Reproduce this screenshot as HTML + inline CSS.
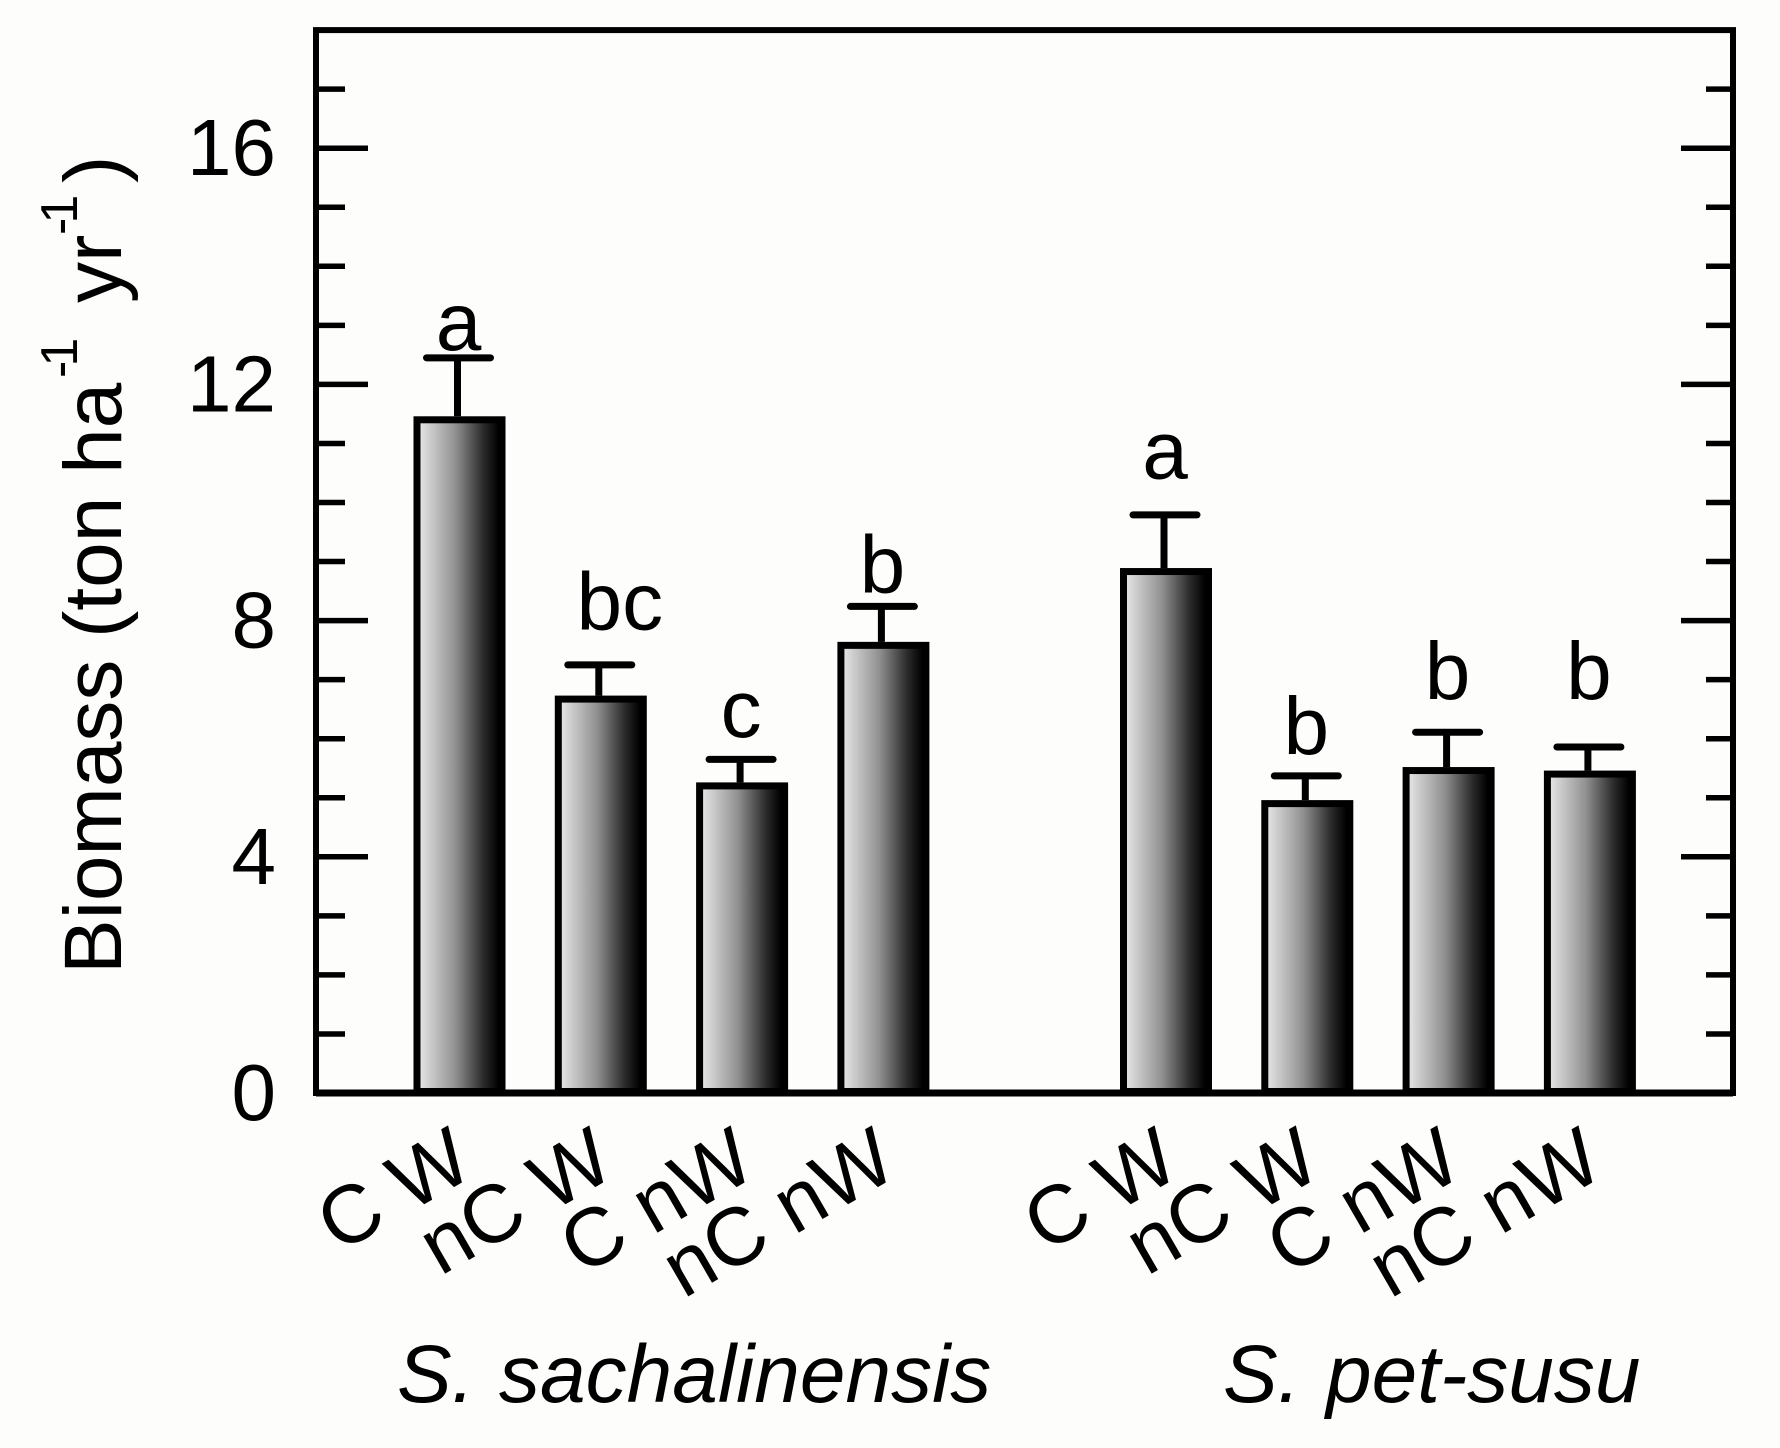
<!DOCTYPE html>
<html>
<head>
<meta charset="utf-8">
<title>Biomass chart</title>
<style>
html,body{margin:0;padding:0;background:#fdfdfb;}
svg{display:block;}
text{font-family:"Liberation Sans",Arial,sans-serif;fill:#000;}
</style>
</head>
<body>
<svg id="chart" xmlns="http://www.w3.org/2000/svg" width="1780" height="1448" viewBox="0 0 1780 1448">
  <defs>
    <linearGradient id="barFill" x1="0" y1="0" x2="1" y2="0">
      <stop offset="0" stop-color="#e2e2e2"/>
      <stop offset="0.45" stop-color="#909090"/>
      <stop offset="0.8" stop-color="#2c2c2c"/>
      <stop offset="1" stop-color="#000"/>
    </linearGradient>
  </defs>
  <rect x="0" y="0" width="1780" height="1448" fill="#fdfdfb"/>
  <g id="plot"></g>
  <text transform="translate(121,974) rotate(-90)" font-size="82">Biomass<tspan x="336">(ton ha</tspan><tspan x="596" dy="-44" font-size="52" letter-spacing="-6">-1</tspan><tspan x="671" dy="44">yr</tspan><tspan x="739" dy="-44" font-size="52" letter-spacing="-6">-1</tspan><tspan x="791" dy="44">)</tspan></text>
  <text font-size="82" font-style="italic" y="1402"><tspan x="397">S.</tspan><tspan x="499">sachalinensis</tspan></text>
  <text font-size="82" font-style="italic" y="1402"><tspan x="1223">S.</tspan><tspan x="1326">pet-susu</tspan></text>
</svg>
<script>
const categories = ['C W', 'nC W', 'C nW', 'nC nW', 'C W', 'nC W', 'C nW', 'nC nW'];
const slots = [0, 1, 2, 3, 5, 6, 7, 8];
const biomass = [11.46, 6.73, 5.26, 7.64, 8.89, 4.96, 5.52, 5.46];
const errorTop = [12.45, 7.25, 5.65, 8.24, 9.79, 5.37, 6.11, 5.86];
const letters = ['a', 'bc', 'c', 'b', 'a', 'b', 'b', 'b'];
const letterLevels = [12.58, 7.85, 6.03, 8.48, 10.41, 5.74, 6.67, 6.67];
const majorTicks = [0, 4, 8, 12, 16];
const minorTicks = [1, 2, 3, 5, 6, 7, 9, 10, 11, 13, 14, 15, 17];

const SVG_NS = 'http://www.w3.org/2000/svg';
const plot = document.getElementById('plot');
const Y0 = 1093, PX_PER_UNIT = 59.05, YMAX = 18;
const LEFT = 316, RIGHT = 1733;
function y(v) { return Y0 - v * PX_PER_UNIT; }
function x(s) { return 459.5 + 141.3 * s; }
function make(tag, attrs) {
  const el = document.createElementNS(SVG_NS, tag);
  for (const k in attrs) el.setAttribute(k, attrs[k]);
  plot.appendChild(el);
  return el;
}

// ticks on both sides
majorTicks.filter(function (t) { return t > 0; }).forEach(function (t) {
  const l = make('line', { x1: LEFT, x2: LEFT + 52, y1: y(t), y2: y(t), stroke: '#000', 'stroke-width': 5.5 });
  
  
  const r = make('line', { x1: RIGHT - 52, x2: RIGHT, y1: y(t), y2: y(t), stroke: '#000', 'stroke-width': 5.5 });
  
  
});
minorTicks.forEach(function (t) {
  const l = make('line', { x1: LEFT, x2: LEFT + 29, y1: y(t), y2: y(t), stroke: '#000', 'stroke-width': 5.5 });
  
  
  const r = make('line', { x1: RIGHT - 27, x2: RIGHT, y1: y(t), y2: y(t), stroke: '#000', 'stroke-width': 5.5 });
  
  
});
majorTicks.forEach(function (t) {
  const lab = make('text', { x: 276, y: y(t) + 27, 'font-size': 80, 'text-anchor': 'end' });
  lab.textContent = String(t);
  
  
});

// bars, error bars, letters, category labels
const BAR_W = 92;
biomass.forEach(function (v, i) {
  const cx = x(slots[i]);
  const errLine = make('line', { x1: cx - 2, x2: cx - 2, y1: y(errorTop[i]), y2: y(v), stroke: '#000', 'stroke-width': 7 });
  
  
  const cap = make('line', { x1: cx - 33, x2: cx + 31, y1: y(errorTop[i]), y2: y(errorTop[i]), stroke: '#000', 'stroke-width': 7, 'stroke-linecap': 'round' });
  
  
  const outer = make('rect', { x: cx - BAR_W / 2, y: y(v), width: BAR_W, height: Y0 - y(v), fill: '#000' });
  
  
  const inner = make('rect', { x: cx - BAR_W / 2 + 7, y: y(v) + 7, width: BAR_W - 14, height: Y0 - y(v) - 12, fill: 'url(#barFill)' });
  
  
  const letter = make('text', { x: cx + (letters[i].length > 1 ? 19 : -1), y: y(letterLevels[i]), 'font-size': 82, 'text-anchor': 'middle' });
  letter.textContent = letters[i];
  
  
  const ex = cx + 17, ey = 1174;
  const cat = make('text', { x: ex, y: ey, 'font-size': 82, 'text-anchor': 'end', transform: 'rotate(-30 ' + ex + ' ' + ey + ')' });
  cat.textContent = categories[i];
  
  
});

// frame on top
const frame = make('rect', { x: LEFT, y: y(YMAX), width: RIGHT - LEFT, height: Y0 - y(YMAX), fill: 'none', stroke: '#000', 'stroke-width': 6 });


const baseLine = make('line', { x1: LEFT, x2: RIGHT, y1: y(0), y2: y(0), stroke: '#000', 'stroke-width': 7 });


</script>
</body>
</html>
